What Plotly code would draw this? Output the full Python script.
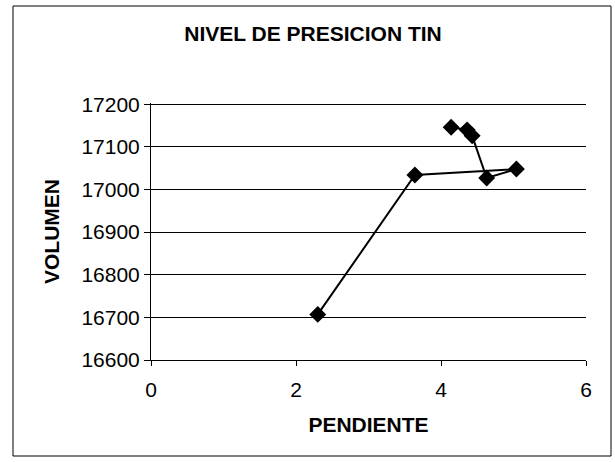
import plotly.graph_objects as go

# Datos
pendiente = [2.30, 3.64, 5.04, 4.63, 4.43, 4.36, 4.14]
volumen = [16707, 17034, 17048, 17027, 17126, 17140, 17146]

x_ticks = [0, 2, 4, 6]
y_ticks = [16600, 16700, 16800, 16900, 17000, 17100, 17200]

W, H = 615, 462
ml, mr, mt, mb = 151, 29, 103, 102
pw, ph = W - ml - mr, H - mt - mb

fig = go.Figure()

fig.add_trace(go.Scatter(
    x=pendiente,
    y=volumen,
    mode="lines+markers",
    line=dict(color="black", width=2),
    marker=dict(symbol="diamond", size=13, color="black"),
    showlegend=False
))

# Borde exterior del area del grafico
fig.add_shape(
    type="rect", xref="paper", yref="paper",
    x0=(13 - ml) / pw, x1=(611 - ml) / pw,
    y0=(H - mb - 456) / ph, y1=(H - mb - 6) / ph,
    line=dict(color="black", width=1), layer="below"
)

fig.update_layout(
    width=W,
    height=H,
    margin=dict(l=ml, r=mr, t=mt, b=mb),
    paper_bgcolor="white",
    plot_bgcolor="white",
    font=dict(family="Liberation Sans, Arial", color="black", size=21),
    title=dict(
        text="<b>NIVEL DE PRESICION TIN</b>",
        x=313 / W, xanchor="center",
        y=1 - 34 / H, yanchor="middle",
        font=dict(size=21)
    ),
    xaxis=dict(
        range=[0, 6],
        tickvals=x_ticks,
        ticks="outside", ticklen=5, tickcolor="black",
        ticklabelstandoff=6,
        showline=True, linecolor="black", linewidth=1,
        showgrid=False, zeroline=False,
        title=dict(text="<b>PENDIENTE</b>", font=dict(size=21), standoff=17)
    ),
    yaxis=dict(
        range=[16600, 17203],
        tickvals=y_ticks,
        tickformat="d",
        ticks="outside", ticklen=6, tickcolor="black",
        showline=True, linecolor="black", linewidth=1,
        showgrid=True, gridcolor="black", gridwidth=1,
        zeroline=False,
        title=dict(text="<b>VOLUMEN</b>", font=dict(size=21), standoff=16)
    )
)

fig.write_html(
    "out.html",
    config={"displayModeBar": False},
    post_script="document.body.style.margin='0';"
)
